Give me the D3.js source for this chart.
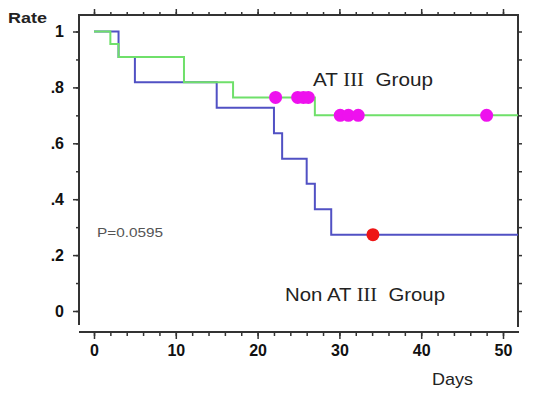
<!DOCTYPE html>
<html>
<head>
<meta charset="utf-8">
<script src="https://cdn.jsdelivr.net/npm/d3@7.8.5/dist/d3.min.js"></script>
<style>
  html, body { margin: 0; padding: 0; background: #fff; }
  svg { display: block; font-family: "Liberation Sans", Arial, sans-serif; }
</style>
</head>
<body>
<svg id="chart" width="534" height="395"></svg>
<script>
// Kaplan-Meier steps
const atDays = [0, 2, 3, 11, 17, 27];
const atRate = [1, 0.955, 0.909, 0.818, 0.764, 0.70];
const atCensorDays = [22.2, 24.9, 25.6, 26.2, 30.1, 31.1, 32.3, 48];

const nonDays = [0, 3, 5, 15, 22, 23, 26, 27, 29];
const nonRate = [1, 0.909, 0.818, 0.727, 0.636, 0.545, 0.455, 0.364, 0.273];
const nonCensorDays = [34.1];

const xTicks = [0, 10, 20, 30, 40, 50];
const yTicks = [0, 0.2, 0.4, 0.6, 0.8, 1];
const yTickLabels = ['0', '.2', '.4', '.6', '.8', '1'];

const svg = d3.select('#chart');

const frame = { left: 79, right: 518, top: 15, bottom: 332, leftEnd: 325, rightEnd: 327 };
const x = d3.scaleLinear().domain([0, 50]).range([94, 503]);
const y = d3.scaleLinear().domain([0, 1]).range([311, 31.5]);
const xMax = x.invert(frame.right);

const ink = '#333';

// frame lines
svg.append('line').attr('x1', frame.left).attr('x2', frame.left).attr('y1', frame.top - 1).attr('y2', frame.leftEnd)
    .attr('stroke', ink).attr('stroke-width', 2);
svg.append('line').attr('x1', frame.left - 1).attr('x2', frame.right + 1).attr('y1', frame.top).attr('y2', frame.top)
    .attr('stroke', ink).attr('stroke-width', 2);
svg.append('line').attr('x1', frame.right).attr('x2', frame.right).attr('y1', frame.top).attr('y2', frame.rightEnd)
    .attr('stroke', ink).attr('stroke-width', 2);
svg.append('line').attr('x1', frame.left).attr('x2', frame.right + 1).attr('y1', frame.bottom).attr('y2', frame.bottom)
    .attr('stroke', ink).attr('stroke-width', 2);

const minorX = d3.range(0, 52, 2);
const minorY = d3.range(0, 11).map(d => d / 10);

function styleAxis(g) {
    g.select('.domain').remove();
    g.selectAll('.tick line').attr('stroke', ink).attr('stroke-width', 1.5);
    g.selectAll('.tick text').attr('fill', '#111').attr('font-weight', 'bold')
        .attr('font-size', 16).attr('font-family', '"Liberation Sans", Arial, sans-serif');
}

// left axis
svg.append('g').attr('transform', `translate(${frame.left},0)`)
    .call(d3.axisLeft(y).tickValues(minorY).tickSize(3).tickFormat(''))
    .call(styleAxis);
svg.append('g').attr('transform', `translate(${frame.left},0)`)
    .call(d3.axisLeft(y).tickValues(yTicks).tickSize(6).tickPadding(9)
        .tickFormat((d, i) => yTickLabels[i]))
    .call(styleAxis);

// right axis
svg.append('g').attr('transform', `translate(${frame.right},0)`)
    .call(d3.axisRight(y).tickValues(minorY).tickSize(4).tickFormat(''))
    .call(styleAxis);

// bottom axis
svg.append('g').attr('transform', `translate(0,${frame.bottom})`)
    .call(d3.axisBottom(x).tickValues(minorX).tickSize(4).tickFormat(''))
    .call(styleAxis);
svg.append('g').attr('transform', `translate(0,${frame.bottom})`)
    .call(d3.axisBottom(x).tickValues(xTicks).tickSize(7).tickPadding(6).tickFormat(d3.format('d')))
    .call(styleAxis);

// top axis
svg.append('g').attr('transform', `translate(0,${frame.top})`)
    .call(d3.axisTop(x).tickValues(minorX).tickSize(3).tickFormat(''))
    .call(styleAxis);
svg.append('g').attr('transform', `translate(0,${frame.top})`)
    .call(d3.axisTop(x).tickValues(xTicks).tickSize(6).tickFormat(''))
    .call(styleAxis);

// survival curves
const step = d3.line().x(d => x(d[0])).y(d => y(d[1])).curve(d3.curveStepAfter);
function stepPoints(days, rate) {
    const pts = days.map((d, i) => [d, rate[i]]);
    pts.push([xMax, rate[rate.length - 1]]);
    return pts;
}
function rateAt(days, rate, t) {
    let v = rate[0];
    days.forEach((d, i) => { if (d <= t) v = rate[i]; });
    return v;
}

svg.append('path').datum(stepPoints(nonDays, nonRate))
    .attr('d', step).attr('fill', 'none').attr('stroke', '#5151c4').attr('stroke-width', 2);
svg.append('path').datum(stepPoints(atDays, atRate))
    .attr('d', step).attr('fill', 'none').attr('stroke', '#6fe06a').attr('stroke-width', 2);

svg.append('g').selectAll('circle').data(atCensorDays).join('circle')
    .attr('cx', d => x(d)).attr('cy', d => y(rateAt(atDays, atRate, d)))
    .attr('r', 6.5).attr('fill', '#ee11ee');
svg.append('g').selectAll('circle').data(nonCensorDays).join('circle')
    .attr('cx', d => x(d)).attr('cy', d => y(rateAt(nonDays, nonRate, d)))
    .attr('r', 6.5).attr('fill', '#ee1515');

// texts
svg.append('text').attr('x', 8).attr('y', 23).attr('font-size', 14).attr('font-weight', 'bold')
    .attr('fill', '#222').attr('textLength', 39).attr('lengthAdjust', 'spacingAndGlyphs').text('Rate');
svg.append('text').attr('x', 432).attr('y', 385).attr('font-size', 17)
    .attr('fill', '#222').attr('textLength', 41).attr('lengthAdjust', 'spacingAndGlyphs').text('Days');

function groupLabel(xp, yp, prefix, width) {
    const t = svg.append('text').attr('x', xp).attr('y', yp).attr('font-size', 18).attr('fill', '#222')
        .attr('textLength', width).attr('lengthAdjust', 'spacingAndGlyphs');
    t.append('tspan').text(prefix + 'AT ');
    t.append('tspan').attr('font-family', '"Liberation Serif", "Times New Roman", serif').text('III');
    t.append('tspan').attr('xml:space', 'preserve').text('\u00a0 Group');
}
groupLabel(313, 86, '', 120);
groupLabel(285, 301, 'Non ', 160);

svg.append('text').attr('x', 97).attr('y', 237).attr('font-size', 12).attr('fill', '#555')
    .attr('textLength', 66).attr('lengthAdjust', 'spacingAndGlyphs').text('P=0.0595');
</script>
</body>
</html>
